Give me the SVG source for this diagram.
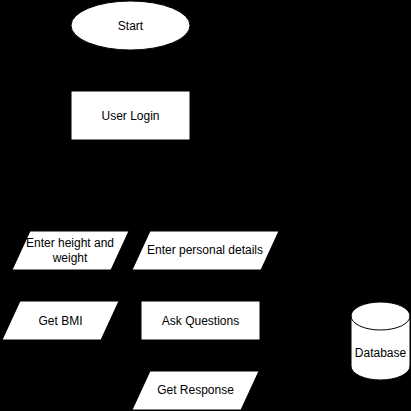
<svg xmlns="http://www.w3.org/2000/svg" width="411" height="411" viewBox="0 0 411 411">
<style>
.s{fill:#ffffff;stroke:#000000;stroke-width:1}
.t{font-family:"Liberation Sans",Arial,Helvetica,sans-serif;font-size:12px;fill:#000000;text-anchor:middle;dominant-baseline:central}
</style>
<rect x="0" y="0" width="411" height="411" fill="#000000"/>
<g id="connectors"></g>
<g id="start">
<ellipse class="s" cx="130.5" cy="25.5" rx="59.5" ry="24.5"/>
<text class="t" x="130.5" y="25.5">Start</text>
</g>
<g id="user-login">
<rect class="s" x="71" y="91" width="119" height="49"/>
<text class="t" x="130.5" y="115.5">User Login</text>
</g>
<g id="enter-height-weight">
<polygon class="s" points="30,231 129,231 111,270 12,270"/>
<text class="t" x="70" y="243">Enter height and</text>
<text class="t" x="70" y="258">weight</text>
</g>
<g id="enter-personal-details">
<polygon class="s" points="150,231 279,231 261,270 132,270"/>
<text class="t" x="205" y="250">Enter personal details</text>
</g>
<g id="get-bmi">
<polygon class="s" points="20,301 119,301 101,340 2,340"/>
<text class="t" x="60.5" y="320.5">Get BMI</text>
</g>
<g id="ask-questions">
<rect class="s" x="141" y="301" width="119" height="39"/>
<text class="t" x="200.5" y="320.5">Ask Questions</text>
</g>
<g id="get-response">
<polygon class="s" points="150,371 259,371 241,410 132,410"/>
<text class="t" x="195.5" y="390">Get Response</text>
</g>
<g id="database">
<path class="s" d="M351,316 A29.5,14 0 0 1 410,316 L410,366 A29.5,14 0 0 1 351,366 Z"/>
<path d="M351,316 A29.5,14 0 0 0 410,316" fill="none" stroke="#000000" stroke-width="1"/>
<text class="t" x="380.5" y="353">Database</text>
</g>
</svg>
